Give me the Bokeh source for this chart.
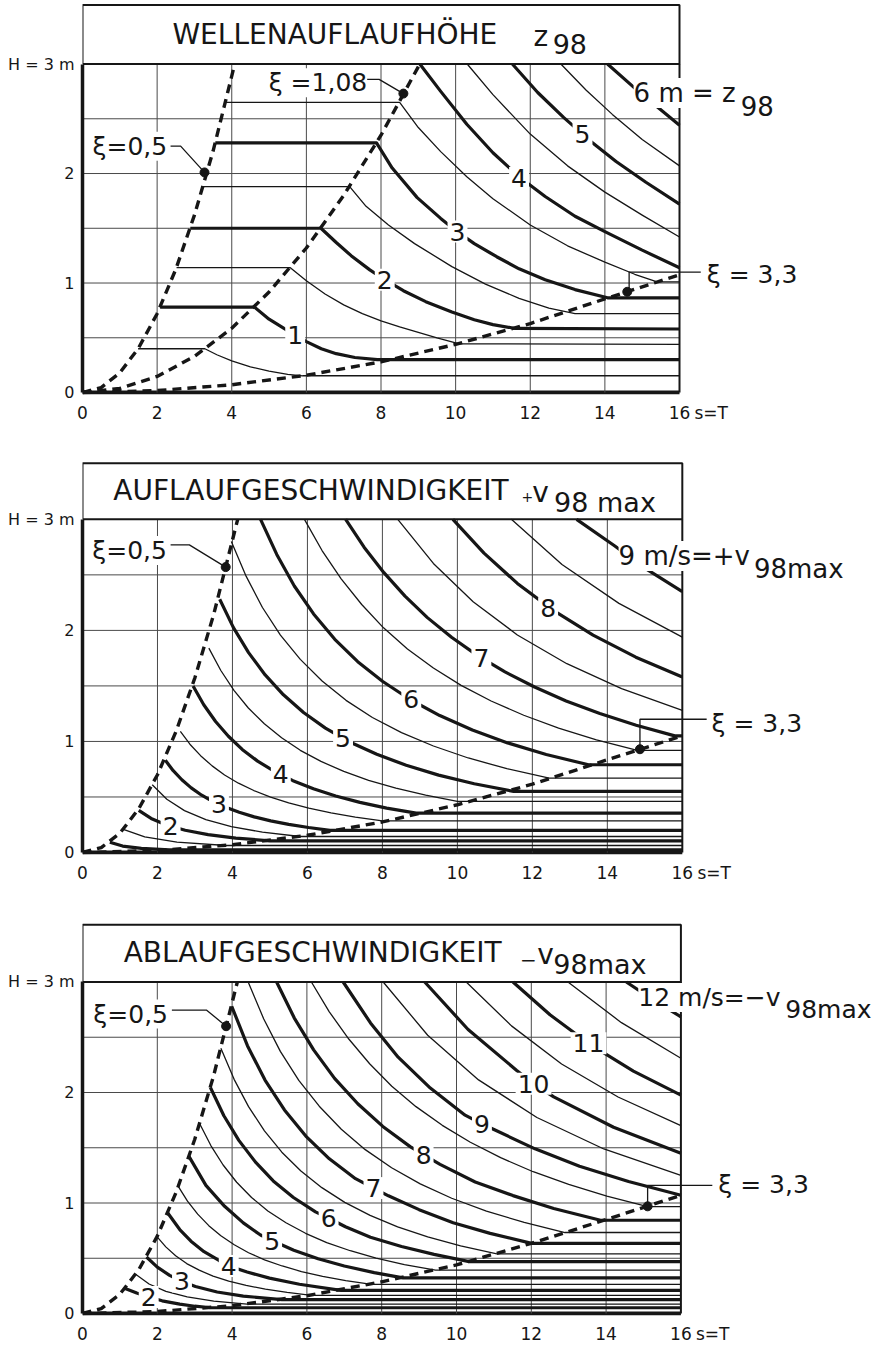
from bokeh.plotting import figure
from bokeh.layouts import column
from bokeh.models import Label, FixedTicker
from bokeh.embed import file_html
from bokeh.resources import INLINE

FONT = "DejaVu Sans"
INK = "#161616"

T_TICKS = [0, 2, 4, 6, 8, 10, 12, 14, 16]
T_UNIT_TICK = 16.85          # position of the "s=T" unit text after the last tick
H_TICKS = [0, 1, 2, 3]
T_GRID = [2, 4, 6, 8, 10, 12, 14]
H_GRID = [0.5, 1.0, 1.5, 2.0, 2.5]
T_MAX = 16
H_MAX = 3

# ---------------- Panel 1: Wellenauflaufhoehe z98 ----------------
P1_XI05_T = [0, 0.5, 1, 1.5, 2, 2.5, 3, 3.5, 4.08]
P1_XI05_H = [0, 0.045, 0.18, 0.405, 0.72, 1.125, 1.62, 2.205, 3.0]
P1_XI108_T = [0, 1, 2, 3, 4, 5, 6, 7, 8, 9.04]
P1_XI108_H = [0, 0.037, 0.147, 0.33, 0.587, 0.918, 1.32, 1.80, 2.35, 3.0]
P1_XI33_T = [0, 2, 4, 6, 8, 10, 12, 14, 16]
P1_XI33_H = [0, 0.018, 0.071, 0.158, 0.28, 0.44, 0.63, 0.855, 1.075]

P1_LEVELS = [0.5, 1, 1.5, 2, 2.5, 3, 3.5, 4, 4.5, 5, 5.5, 6]
P1_T = [
    [1.49, 3.28, 3.6, 4.0, 4.5, 5.0, 5.5, 5.9, 16],
    [2.08, 4.61, 5.0, 5.4, 5.7, 6.0, 6.4, 6.8, 7.3, 7.9, 16],
    [2.52, 5.57, 6.0, 6.5, 7.0, 7.5, 8.0, 8.5, 9.0, 9.5, 10.1, 16],
    [2.89, 6.39, 6.8, 7.2, 7.7, 8.1, 8.6, 9.2, 9.9, 10.5, 11.0, 11.6, 16],
    [3.23, 7.16, 7.6, 8.2, 8.9, 9.9, 10.8, 11.7, 12.5, 13.2, 16],
    [3.56, 7.88, 8.3, 8.97, 9.6, 10.0, 10.5, 11.1, 11.7, 12.4, 13.2, 14.07, 16],
    [3.84, 8.50, 9.0, 9.6, 10.3, 11.0, 12.0, 13.0, 14.0, 14.8, 15.4, 16],
    [9.04, 9.6, 10.3, 11.0, 11.7, 12.4, 13.2, 14.0, 15.0, 16],
    [10.31, 11.0, 12.0, 13.0, 14.0, 15.0, 16],
    [11.52, 12.2, 12.9, 13.6, 14.3, 15.1, 16],
    [12.82, 13.5, 14.2, 15.0, 16],
    [14.07, 14.8, 15.4, 16],
]
P1_H = [
    [0.40, 0.40, 0.345, 0.29, 0.235, 0.195, 0.165, 0.153, 0.153],
    [0.78, 0.78, 0.67, 0.585, 0.525, 0.465, 0.40, 0.355, 0.32, 0.30, 0.30],
    [1.14, 1.14, 1.02, 0.90, 0.80, 0.72, 0.655, 0.60, 0.55, 0.50, 0.445, 0.44],
    [1.50, 1.50, 1.37, 1.25, 1.12, 1.03, 0.93, 0.83, 0.735, 0.665, 0.62, 0.585, 0.58],
    [1.88, 1.88, 1.70, 1.53, 1.36, 1.15, 0.99, 0.86, 0.77, 0.72, 0.72],
    [2.28, 2.28, 2.05, 1.78, 1.59, 1.48, 1.36, 1.24, 1.13, 1.03, 0.94, 0.865, 0.865],
    [2.65, 2.65, 2.42, 2.20, 1.97, 1.77, 1.53, 1.34, 1.19, 1.08, 1.01, 1.01],
    [3.0, 2.75, 2.45, 2.19, 1.97, 1.79, 1.61, 1.47, 1.30, 1.14],
    [3.0, 2.72, 2.36, 2.07, 1.83, 1.62, 1.42],
    [3.0, 2.74, 2.51, 2.30, 2.11, 1.92, 1.72],
    [3.0, 2.76, 2.54, 2.31, 2.07],
    [3.0, 2.78, 2.61, 2.44],
]
P1_LABELS = ["1", "2", "3", "4", "5"]
P1_LABEL_T = [5.7, 8.1, 10.05, 11.7, 13.4]
P1_LABEL_H = [0.525, 1.03, 1.47, 1.96, 2.36]
P1_DOT_T = [3.27, 8.6, 14.6]
P1_DOT_H = [2.01, 2.73, 0.92]

# ---------------- Panel 2: Auflaufgeschwindigkeit ----------------
P2_XI05_T = [0, 0.5, 1, 1.5, 2, 2.5, 3, 3.5, 4.14]
P2_XI05_H = [0, 0.044, 0.175, 0.394, 0.70, 1.094, 1.575, 2.144, 3.0]
P2_XI33_T = [0, 2, 4, 6, 8, 10, 12, 14, 16]
P2_XI33_H = [0, 0.018, 0.07, 0.155, 0.275, 0.43, 0.615, 0.835, 1.05]

P2_LEVELS = [1, 1.5, 2, 2.5, 3, 3.5, 4, 4.5, 5, 5.5, 6, 6.5, 7, 7.5, 8, 8.5, 9]
P2_T = [
    [0.73, 1.07, 1.57, 2.31, 16],
    [1.09, 1.66, 2.52, 3.83, 16],
    [1.50, 1.83, 2.24, 2.74, 3.35, 4.09, 5.0, 16],
    [1.86, 2.25, 2.72, 3.29, 3.97, 4.80, 5.8, 16],
    [2.21, 2.42, 2.65, 2.90, 3.18, 3.48, 3.82, 4.18, 4.58, 5.02, 5.50, 6.03, 6.6, 16],
    [2.61, 2.865, 3.15, 3.458, 3.79, 4.16, 4.57, 5.017, 5.50, 6.037, 6.63, 7.278, 8.0, 16],
    [2.95, 3.234, 3.55, 3.892, 4.26, 4.671, 5.12, 5.614, 6.16, 6.754, 7.40, 8.113, 8.9, 16],
    [3.37, 3.69, 4.04, 4.424, 4.85, 5.311, 5.81, 6.362, 6.97, 7.632, 8.36, 9.154, 10.0, 16],
    [3.66, 4.026, 4.43, 4.873, 5.36, 5.896, 6.48, 7.128, 7.85, 8.635, 9.50, 10.45, 11.5, 16],
    [3.97, 4.367, 4.80, 5.28, 5.81, 6.391, 7.03, 7.733, 8.51, 9.361, 10.29, 11.32, 12.45, 16],
    [4.75, 5.182, 5.65, 6.164, 6.73, 7.342, 8.01, 8.738, 9.53, 10.40, 11.34, 12.37, 13.5, 16],
    [5.92, 6.39, 6.90, 7.448, 8.03, 8.668, 9.36, 10.10, 10.90, 11.77, 12.70, 13.71, 14.8, 16],
    [7.02, 7.511, 8.04, 8.603, 9.20, 9.844, 10.53, 11.27, 12.06, 12.90, 13.80, 14.77, 15.8, 16],
    [8.41, 9.36, 10.42, 11.60, 12.92, 14.38, 16.0],
    [9.88, 10.71, 11.60, 12.57, 13.62, 14.76, 16.0],
    [11.44, 12.79, 14.31, 16.0],
    [13.18, 14.2, 15.0, 16],
]
P2_H = [
    [0.093, 0.058, 0.037, 0.023, 0.023],
    [0.209, 0.140, 0.094, 0.063, 0.063],
    [0.38, 0.307, 0.247, 0.200, 0.161, 0.130, 0.105, 0.105],
    [0.61, 0.479, 0.377, 0.296, 0.233, 0.183, 0.144, 0.144],
    [0.83, 0.737, 0.655, 0.582, 0.516, 0.458, 0.407, 0.362, 0.321, 0.285, 0.253, 0.225, 0.20, 0.20],
    [1.09, 0.975, 0.872, 0.780, 0.698, 0.624, 0.558, 0.499, 0.447, 0.400, 0.357, 0.319, 0.285, 0.285],
    [1.50, 1.330, 1.18, 1.047, 0.928, 0.823, 0.730, 0.647, 0.574, 0.509, 0.451, 0.400, 0.355, 0.355],
    [1.84, 1.639, 1.46, 1.301, 1.159, 1.033, 0.92, 0.820, 0.730, 0.650, 0.580, 0.517, 0.46, 0.46],
    [2.28, 2.025, 1.80, 1.599, 1.42, 1.261, 1.12, 0.995, 0.884, 0.785, 0.697, 0.619, 0.55, 0.55],
    [2.80, 2.486, 2.206, 1.958, 1.739, 1.544, 1.370, 1.216, 1.080, 0.959, 0.851, 0.755, 0.67, 0.67],
    [3.0, 2.684, 2.40, 2.148, 1.92, 1.718, 1.54, 1.378, 1.233, 1.103, 0.987, 0.883, 0.79, 0.79],
    [3.0, 2.719, 2.464, 2.233, 2.023, 1.833, 1.661, 1.505, 1.364, 1.236, 1.120, 1.015, 0.92, 0.92],
    [3.0, 2.749, 2.52, 2.309, 2.115, 1.938, 1.775, 1.626, 1.49, 1.365, 1.251, 1.146, 1.05, 1.05],
    [3.0, 2.603, 2.258, 1.959, 1.700, 1.475, 1.28],
    [3.0, 2.696, 2.423, 2.178, 1.957, 1.759, 1.58],
    [3.0, 2.594, 2.243, 1.94],
    [3.0, 2.76, 2.56, 2.35],
]
P2_LABELS = ["2", "3", "4", "5", "6", "7", "8"]
P2_LABEL_T = [2.35, 3.64, 5.29, 6.95, 8.77, 10.64, 12.42]
P2_LABEL_H = [0.237, 0.44, 0.704, 1.03, 1.38, 1.755, 2.2]
P2_DOT_T = [3.82, 14.87]
P2_DOT_H = [2.57, 0.93]

# ---------------- Panel 3: Ablaufgeschwindigkeit ----------------
P3_XI05_T = [0, 0.5, 1, 1.5, 2, 2.5, 3, 3.5, 4.14]
P3_XI05_H = [0, 0.044, 0.175, 0.394, 0.70, 1.094, 1.575, 2.144, 3.0]
P3_XI33_T = [0, 2, 4, 6, 8, 10, 12, 14, 16]
P3_XI33_H = [0, 0.018, 0.071, 0.161, 0.287, 0.44, 0.635, 0.85, 1.07]

P3_LEVELS = [2, 2.5, 3, 3.5, 4, 4.5, 5, 5.5, 6, 6.5, 7, 7.5, 8, 8.5, 9,
             9.5, 10, 10.5, 11, 11.5, 12]
P3_T = [
    [1.14, 1.45, 1.77, 2.13, 2.6, 3.0, 3.44, 16],
    [1.42, 1.78, 2.23, 2.80, 3.51, 4.40, 16],
    [1.71, 2.0, 2.33, 2.66, 3.02, 3.6, 4.3, 5.33, 16],
    [1.99, 2.227, 2.49, 2.786, 3.12, 3.491, 3.91, 4.375, 4.89, 5.472, 6.12, 16],
    [2.28, 2.6, 2.9, 3.25, 3.65, 4.0, 4.4, 5.0, 5.8, 6.91, 16],
    [2.56, 2.807, 3.08, 3.377, 3.70, 4.057, 4.44, 4.868, 5.34, 5.855, 6.42, 7.039, 7.73, 16],
    [2.85, 3.3, 3.8, 4.3, 4.76, 5.2, 5.65, 6.3, 7.0, 7.8, 8.57, 16],
    [3.13, 3.432, 3.76, 4.122, 4.52, 4.956, 5.44, 5.964, 6.53, 7.16, 7.85, 8.607, 9.44, 16],
    [3.42, 3.78, 4.18, 4.62, 5.10, 5.64, 6.23, 6.6, 7.03, 7.7, 8.53, 9.4, 10.34, 16],
    [3.70, 4.054, 4.44, 4.865, 5.33, 5.84, 6.40, 7.012, 7.69, 8.426, 9.23, 10.11, 11.08, 16],
    [3.99, 4.41, 4.88, 5.40, 5.97, 6.60, 7.3, 7.75, 8.18, 9.0, 9.91, 10.9, 12.01, 16],
    [4.43, 4.843, 5.29, 5.783, 6.33, 6.92, 7.56, 8.265, 9.03, 9.872, 10.80, 11.81, 12.9, 16],
    [5.19, 5.66, 6.18, 6.74, 7.36, 8.03, 8.76, 9.15, 9.56, 10.5, 11.51, 12.6, 13.85, 16],
    [6.12, 6.599, 7.12, 7.677, 8.27, 8.917, 9.62, 10.37, 11.18, 12.05, 13.0, 14.02, 15.11, 16],
    [6.97, 7.7, 8.44, 9.3, 10.23, 10.65, 11.03, 12.1, 13.29, 14.6, 16],
    [8.04, 9.23, 10.59, 12.15, 13.94, 16.0],
    [9.15, 10.31, 11.61, 12.06, 12.6, 14.2, 16],
    [10.26, 11.47, 12.81, 14.32, 16.0],
    [11.51, 12.50, 13.57, 14.73, 16.0],
    [12.98, 14.41, 16],
    [14.54, 15.25, 16],
]
P3_H = [
    [0.227, 0.185, 0.15, 0.115, 0.085, 0.066, 0.052, 0.052],
    [0.355, 0.267, 0.200, 0.151, 0.113, 0.085, 0.085],
    [0.511, 0.42, 0.345, 0.29, 0.245, 0.195, 0.158, 0.125, 0.125],
    [0.696, 0.603, 0.522, 0.452, 0.392, 0.339, 0.294, 0.255, 0.220, 0.191, 0.165, 0.165],
    [0.909, 0.76, 0.655, 0.56, 0.48, 0.42, 0.375, 0.32, 0.265, 0.21, 0.21],
    [1.15, 1.017, 0.899, 0.795, 0.703, 0.622, 0.550, 0.486, 0.430, 0.380, 0.336, 0.297, 0.263, 0.263],
    [1.42, 1.16, 0.97, 0.82, 0.71, 0.64, 0.573, 0.495, 0.43, 0.37, 0.323, 0.323],
    [1.72, 1.520, 1.344, 1.188, 1.050, 0.928, 0.821, 0.726, 0.642, 0.568, 0.501, 0.443, 0.392, 0.392],
    [2.045, 1.79, 1.567, 1.372, 1.20, 1.05, 0.92, 0.86, 0.785, 0.69, 0.607, 0.535, 0.47, 0.47],
    [2.40, 2.119, 1.872, 1.653, 1.460, 1.289, 1.139, 1.006, 0.888, 0.784, 0.693, 0.612, 0.54, 0.54],
    [2.78, 2.424, 2.113, 1.842, 1.606, 1.40, 1.22, 1.14, 1.065, 0.94, 0.822, 0.725, 0.635, 0.635],
    [3.0, 2.668, 2.372, 2.109, 1.876, 1.668, 1.483, 1.319, 1.173, 1.043, 0.927, 0.824, 0.733, 0.733],
    [3.0, 2.676, 2.386, 2.128, 1.898, 1.693, 1.51, 1.43, 1.35, 1.19, 1.067, 0.95, 0.844, 0.844],
    [3.0, 2.730, 2.484, 2.260, 2.057, 1.872, 1.703, 1.550, 1.410, 1.283, 1.168, 1.063, 0.967, 0.967],
    [3.0, 2.63, 2.32, 2.04, 1.795, 1.72, 1.66, 1.49, 1.333, 1.195, 1.07],
    [3.0, 2.518, 2.114, 1.774, 1.489, 1.25],
    [3.0, 2.57, 2.20, 2.08, 1.96, 1.686, 1.45],
    [3.0, 2.603, 2.258, 1.959, 1.70],
    [3.0, 2.703, 2.435, 2.193, 1.976],
    [3.0, 2.632, 2.31],
    [3.0, 2.84, 2.685],
]
P3_LABELS = ["2", "3", "4", "5", "6", "7", "8", "9", "10", "11"]
P3_LABEL_T = [1.77, 2.66, 3.91, 5.07, 6.58, 7.78, 9.12, 10.68, 12.06, 13.53]
P3_LABEL_H = [0.15, 0.29, 0.43, 0.66, 0.865, 1.135, 1.435, 1.715, 2.08, 2.445]
P3_DOT_T = [3.84, 15.11]
P3_DOT_H = [2.60, 0.97]


def make_fig(height, bottom, x_end, y_start, y_end):
    p = figure(width=879, height=height, x_range=(0, x_end), y_range=(y_start, y_end),
               output_backend="svg", toolbar_location=None,
               min_border_left=82, min_border_right=0, min_border_top=0,
               min_border_bottom=bottom)
    p.xgrid.visible = False
    p.ygrid.visible = False
    p.outline_line_color = None
    p.background_fill_color = "white"
    p.border_fill_color = "white"
    for ax in (p.xaxis, p.yaxis):
        ax.major_tick_line_color = None
        ax.minor_tick_line_color = None
        ax.major_tick_out = 0
        ax.major_tick_in = 0
        ax.major_label_text_font = FONT
        ax.major_label_text_color = INK
        ax.major_label_standoff = 8
    p.xaxis.ticker = FixedTicker(ticks=T_TICKS + [T_UNIT_TICK])
    p.xaxis.bounds = (0, T_UNIT_TICK + 0.2)
    p.xaxis.axis_line_color = None
    p.xaxis.major_label_overrides = {T_UNIT_TICK: "s=T"}
    p.xaxis.major_label_text_font_size = "17px"
    p.yaxis.ticker = FixedTicker(ticks=H_TICKS)
    p.yaxis.bounds = (0, H_MAX)
    p.yaxis.axis_line_color = INK
    p.yaxis.axis_line_width = 3.5
    p.yaxis.major_label_text_font_size = "16px"
    p.yaxis.major_label_overrides = {3: "H = 3 m"}
    # thick bottom border along H = 0
    p.line([0, T_MAX], [0, 0], line_color=INK, line_width=4)
    return p


def text(p, x, y, s, size, align="left", bg=False, pad=0):
    lbl = Label(x=x, y=y, text=s, text_font=FONT, text_font_size=f"{size}px",
                text_color=INK, text_align=align, text_baseline="middle")
    if bg:
        lbl.background_fill_color = "white"
        lbl.background_fill_alpha = 1.0
        lbl.padding = pad
    p.add_layout(lbl)


def frame(p, box_top):
    p.segment(x0=T_GRID, y0=[0] * len(T_GRID), x1=T_GRID, y1=[H_MAX] * len(T_GRID),
              line_color="#4a4a4a", line_width=1)
    p.segment(x0=[0] * len(H_GRID), y0=H_GRID, x1=[T_MAX] * len(H_GRID), y1=H_GRID,
              line_color="#4a4a4a", line_width=1)
    p.line([T_MAX, T_MAX], [0, H_MAX], line_color=INK, line_width=2)
    p.line([0, 0, T_MAX, T_MAX, 0], [H_MAX, box_top, box_top, H_MAX, H_MAX],
           line_color=INK, line_width=2)


def contours(p, levels, ts, hs):
    thin = [i for i, v in enumerate(levels) if not float(v).is_integer()]
    thick = [i for i, v in enumerate(levels) if float(v).is_integer()]
    p.multi_line([ts[i] for i in thin], [hs[i] for i in thin],
                 line_color=INK, line_width=1.3, line_join="round")
    p.multi_line([ts[i] for i in thick], [hs[i] for i in thick],
                 line_color=INK, line_width=3.2, line_join="round")


def xi_lines(p, curves):
    for t, h in curves:
        p.line(t, h, line_color=INK, line_width=3.4, line_dash="9 6")


def labels(p, names, ts, hs):
    for s, t, h in zip(names, ts, hs):
        text(p, t, h, s, 25, align="center", bg=True, pad=2)


# ---------- Panel 1 ----------
p1 = make_fig(430, 36, 21.36, -0.018, 3.58)
frame(p1, 3.539)
contours(p1, P1_LEVELS, P1_T, P1_H)
xi_lines(p1, [(P1_XI05_T, P1_XI05_H), (P1_XI108_T, P1_XI108_H), (P1_XI33_T, P1_XI33_H)])
p1.multi_line([[2.36, 2.63, 3.27], [7.37, 7.95, 8.6], [16.57, 14.65, 14.65]],
              [[2.25, 2.25, 2.01], [2.86, 2.86, 2.73], [1.10, 1.10, 0.92]],
              line_color=INK, line_width=1.3)
p1.scatter(P1_DOT_T, P1_DOT_H, marker="circle", size=9, color=INK)
labels(p1, P1_LABELS, P1_LABEL_T, P1_LABEL_H)
text(p1, 2.41, 3.27, "WELLENAUFLAUFHÖHE", 28)
text(p1, 12.09, 3.25, "z", 28)
text(p1, 12.6, 3.185, "98", 27)
text(p1, 14.77, 2.735, "6 m = z", 26, bg=True)
text(p1, 17.64, 2.617, "98", 26)
text(p1, 0.27, 2.25, "ξ=0,5", 25, bg=True)
text(p1, 4.99, 2.83, "ξ =1,08", 25, bg=True)
text(p1, 16.73, 1.08, "ξ = 3,3", 25)

# ---------- Panel 2 ----------
p2 = make_fig(460, 36, 21.26, -0.018, 3.80)
frame(p2, 3.505)
contours(p2, P2_LEVELS, P2_T, P2_H)
xi_lines(p2, [(P2_XI05_T, P2_XI05_H), (P2_XI33_T, P2_XI33_H)])
p2.multi_line([[2.35, 2.85, 3.82], [16.65, 14.87, 14.87]],
              [[2.77, 2.77, 2.57], [1.20, 1.20, 0.93]],
              line_color=INK, line_width=1.3)
p2.scatter(P2_DOT_T, P2_DOT_H, marker="circle", size=9, color=INK)
labels(p2, P2_LABELS, P2_LABEL_T, P2_LABEL_H)
text(p2, 0.82, 3.264, "AUFLAUFGESCHWINDIGKEIT", 28)
text(p2, 11.71, 3.20, "+", 14)
text(p2, 12.0, 3.24, "v", 28)
text(p2, 12.58, 3.156, "98 max", 27)
text(p2, 14.30, 2.67, "9 m/s=+v", 26, bg=True)
text(p2, 17.91, 2.55, "98max", 26)
text(p2, 0.26, 2.72, "ξ=0,5", 25, bg=True)
text(p2, 16.78, 1.16, "ξ = 3,3", 25)

# ---------- Panel 3 ----------
p3 = make_fig(456, 31, 21.31, -0.018, 3.828)
frame(p3, 3.518)
contours(p3, P3_LEVELS, P3_T, P3_H)
xi_lines(p3, [(P3_XI05_T, P3_XI05_H), (P3_XI33_T, P3_XI33_H)])
p3.multi_line([[2.39, 3.32, 3.84], [16.84, 15.11, 15.11]],
              [[2.745, 2.745, 2.60], [1.16, 1.16, 0.97]],
              line_color=INK, line_width=1.3)
p3.scatter(P3_DOT_T, P3_DOT_H, marker="circle", size=9, color=INK)
labels(p3, P3_LABELS, P3_LABEL_T, P3_LABEL_H)
text(p3, 1.10, 3.267, "ABLAUFGESCHWINDIGKEIT", 28)
text(p3, 11.70, 3.195, "−", 20)
text(p3, 12.16, 3.245, "v", 28)
text(p3, 12.59, 3.154, "98max", 27)
text(p3, 14.86, 2.86, "12 m/s=−v", 25, bg=True)
text(p3, 18.79, 2.75, "98max", 25)
text(p3, 0.29, 2.71, "ξ=0,5", 25, bg=True)
text(p3, 17.0, 1.17, "ξ = 3,3", 25)

layout = column(p1, p2, p3, spacing=0)
open("out.html", "w").write(file_html(layout, INLINE))
